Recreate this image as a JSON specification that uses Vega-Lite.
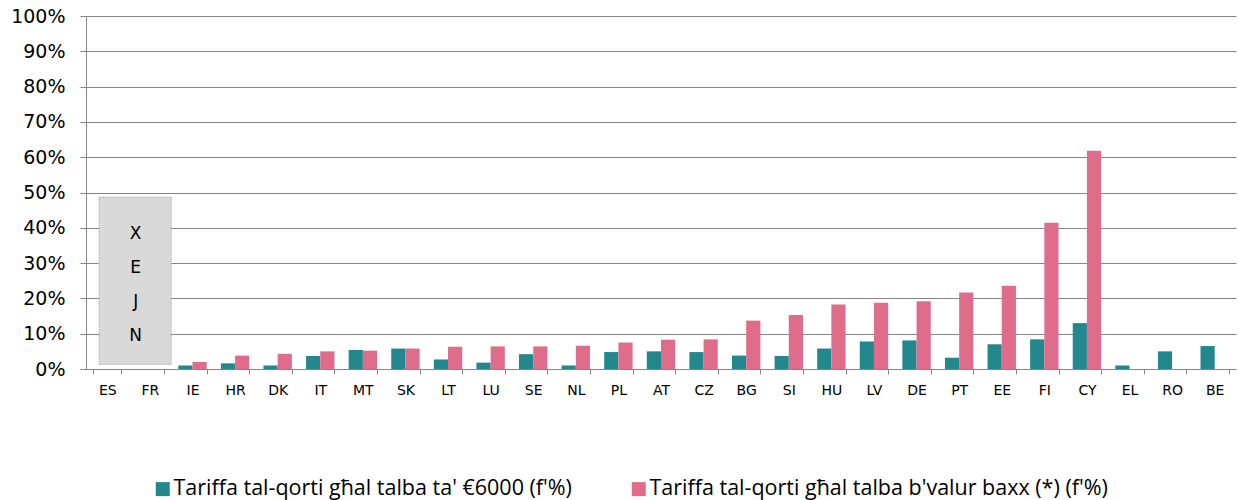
{
  "$schema": "https://vega.github.io/schema/vega-lite/v6.json",
  "autosize": {"type": "none"},
  "width": 1150,
  "height": 353,
  "padding": {"left": 86, "top": 16, "right": 3, "bottom": 131},
  "background": "white",
  "config": {
    "font": "Open Sans",
    "view": {"stroke": null}
  },
  "datasets": {
    "bars": [
      {"country": "IE", "series": "Tariffa tal-qorti għal talba ta' €6000 (f'%)", "value": 0.010},
      {"country": "IE", "series": "Tariffa tal-qorti għal talba b'valur baxx (*) (f'%)", "value": 0.020},
      {"country": "HR", "series": "Tariffa tal-qorti għal talba ta' €6000 (f'%)", "value": 0.016},
      {"country": "HR", "series": "Tariffa tal-qorti għal talba b'valur baxx (*) (f'%)", "value": 0.038},
      {"country": "DK", "series": "Tariffa tal-qorti għal talba ta' €6000 (f'%)", "value": 0.010},
      {"country": "DK", "series": "Tariffa tal-qorti għal talba b'valur baxx (*) (f'%)", "value": 0.043},
      {"country": "IT", "series": "Tariffa tal-qorti għal talba ta' €6000 (f'%)", "value": 0.037},
      {"country": "IT", "series": "Tariffa tal-qorti għal talba b'valur baxx (*) (f'%)", "value": 0.050},
      {"country": "MT", "series": "Tariffa tal-qorti għal talba ta' €6000 (f'%)", "value": 0.054},
      {"country": "MT", "series": "Tariffa tal-qorti għal talba b'valur baxx (*) (f'%)", "value": 0.052},
      {"country": "SK", "series": "Tariffa tal-qorti għal talba ta' €6000 (f'%)", "value": 0.058},
      {"country": "SK", "series": "Tariffa tal-qorti għal talba b'valur baxx (*) (f'%)", "value": 0.058},
      {"country": "LT", "series": "Tariffa tal-qorti għal talba ta' €6000 (f'%)", "value": 0.027},
      {"country": "LT", "series": "Tariffa tal-qorti għal talba b'valur baxx (*) (f'%)", "value": 0.063},
      {"country": "LU", "series": "Tariffa tal-qorti għal talba ta' €6000 (f'%)", "value": 0.018},
      {"country": "LU", "series": "Tariffa tal-qorti għal talba b'valur baxx (*) (f'%)", "value": 0.064},
      {"country": "SE", "series": "Tariffa tal-qorti għal talba ta' €6000 (f'%)", "value": 0.042},
      {"country": "SE", "series": "Tariffa tal-qorti għal talba b'valur baxx (*) (f'%)", "value": 0.064},
      {"country": "NL", "series": "Tariffa tal-qorti għal talba ta' €6000 (f'%)", "value": 0.010},
      {"country": "NL", "series": "Tariffa tal-qorti għal talba b'valur baxx (*) (f'%)", "value": 0.066},
      {"country": "PL", "series": "Tariffa tal-qorti għal talba ta' €6000 (f'%)", "value": 0.048},
      {"country": "PL", "series": "Tariffa tal-qorti għal talba b'valur baxx (*) (f'%)", "value": 0.075},
      {"country": "AT", "series": "Tariffa tal-qorti għal talba ta' €6000 (f'%)", "value": 0.050},
      {"country": "AT", "series": "Tariffa tal-qorti għal talba b'valur baxx (*) (f'%)", "value": 0.083},
      {"country": "CZ", "series": "Tariffa tal-qorti għal talba ta' €6000 (f'%)", "value": 0.048},
      {"country": "CZ", "series": "Tariffa tal-qorti għal talba b'valur baxx (*) (f'%)", "value": 0.084},
      {"country": "BG", "series": "Tariffa tal-qorti għal talba ta' €6000 (f'%)", "value": 0.038},
      {"country": "BG", "series": "Tariffa tal-qorti għal talba b'valur baxx (*) (f'%)", "value": 0.137},
      {"country": "SI", "series": "Tariffa tal-qorti għal talba ta' €6000 (f'%)", "value": 0.037},
      {"country": "SI", "series": "Tariffa tal-qorti għal talba b'valur baxx (*) (f'%)", "value": 0.153},
      {"country": "HU", "series": "Tariffa tal-qorti għal talba ta' €6000 (f'%)", "value": 0.058},
      {"country": "HU", "series": "Tariffa tal-qorti għal talba b'valur baxx (*) (f'%)", "value": 0.183},
      {"country": "LV", "series": "Tariffa tal-qorti għal talba ta' €6000 (f'%)", "value": 0.078},
      {"country": "LV", "series": "Tariffa tal-qorti għal talba b'valur baxx (*) (f'%)", "value": 0.188},
      {"country": "DE", "series": "Tariffa tal-qorti għal talba ta' €6000 (f'%)", "value": 0.081},
      {"country": "DE", "series": "Tariffa tal-qorti għal talba b'valur baxx (*) (f'%)", "value": 0.192},
      {"country": "PT", "series": "Tariffa tal-qorti għal talba ta' €6000 (f'%)", "value": 0.032},
      {"country": "PT", "series": "Tariffa tal-qorti għal talba b'valur baxx (*) (f'%)", "value": 0.217},
      {"country": "EE", "series": "Tariffa tal-qorti għal talba ta' €6000 (f'%)", "value": 0.070},
      {"country": "EE", "series": "Tariffa tal-qorti għal talba b'valur baxx (*) (f'%)", "value": 0.236},
      {"country": "FI", "series": "Tariffa tal-qorti għal talba ta' €6000 (f'%)", "value": 0.084},
      {"country": "FI", "series": "Tariffa tal-qorti għal talba b'valur baxx (*) (f'%)", "value": 0.414},
      {"country": "CY", "series": "Tariffa tal-qorti għal talba ta' €6000 (f'%)", "value": 0.130},
      {"country": "CY", "series": "Tariffa tal-qorti għal talba b'valur baxx (*) (f'%)", "value": 0.618},
      {"country": "EL", "series": "Tariffa tal-qorti għal talba ta' €6000 (f'%)", "value": 0.010},
      {"country": "RO", "series": "Tariffa tal-qorti għal talba ta' €6000 (f'%)", "value": 0.050},
      {"country": "BE", "series": "Tariffa tal-qorti għal talba ta' €6000 (f'%)", "value": 0.065}
    ],
    "box": [
      {"from": "ES", "to": "FR", "top": 0.487, "bottom": 0.013}
    ],
    "letters": [
      {"country": "FR", "letter": "X", "y": 0.382},
      {"country": "FR", "letter": "E", "y": 0.285},
      {"country": "FR", "letter": "J", "y": 0.190},
      {"country": "FR", "letter": "N", "y": 0.093}
    ]
  },
  "resolve": {"scale": {"x": "shared", "y": "shared"}},
  "layer": [
    {
      "data": {"name": "bars"},
      "mark": {"type": "bar"},
      "encoding": {
        "x": {
          "field": "country",
          "type": "nominal",
          "sort": ["ES","FR","IE","HR","DK","IT","MT","SK","LT","LU","SE","NL","PL","AT","CZ","BG","SI","HU","LV","DE","PT","EE","FI","CY","EL","RO","BE"],
          "scale": {
            "domain": ["ES","FR","IE","HR","DK","IT","MT","SK","LT","LU","SE","NL","PL","AT","CZ","BG","SI","HU","LV","DE","PT","EE","FI","CY","EL","RO","BE"],
            "paddingInner": 0.3333,
            "paddingOuter": 0.1667
          },
          "axis": {
            "title": null,
            "labelAngle": 0,
            "labelFont": "DejaVu Sans",
            "labelFontSize": 14,
            "labelColor": "#000000",
            "labelPadding": 9,
            "labelOverlap": false,
            "tickBand": "extent",
            "tickSize": 5,
            "tickColor": "#868686",
            "domainColor": "#868686",
            "grid": false
          }
        },
        "xOffset": {
          "field": "series",
          "type": "nominal",
          "sort": ["Tariffa tal-qorti għal talba ta' €6000 (f'%)", "Tariffa tal-qorti għal talba b'valur baxx (*) (f'%)"],
          "scale": {"paddingInner": 0, "paddingOuter": 0}
        },
        "y": {
          "field": "value",
          "type": "quantitative",
          "scale": {"domain": [0, 1], "nice": false},
          "axis": {
            "title": null,
            "format": ".0%",
            "values": [0, 0.1, 0.2, 0.3, 0.4, 0.5, 0.6, 0.7, 0.8, 0.9, 1],
            "labelOverlap": false,
            "labelFont": "DejaVu Sans",
            "labelFontSize": 19,
            "labelColor": "#000000",
            "labelPadding": 15,
            "tickSize": 6,
            "tickColor": "#868686",
            "domainColor": "#868686",
            "gridColor": "#868686",
            "gridWidth": 1
          }
        },
        "color": {
          "field": "series",
          "type": "nominal",
          "sort": ["Tariffa tal-qorti għal talba ta' €6000 (f'%)", "Tariffa tal-qorti għal talba b'valur baxx (*) (f'%)"],
          "scale": {
            "domain": ["Tariffa tal-qorti għal talba ta' €6000 (f'%)", "Tariffa tal-qorti għal talba b'valur baxx (*) (f'%)"],
            "range": ["#22888E", "#E06C8C"]
          },
          "legend": {
            "title": null,
            "orient": "none",
            "direction": "horizontal",
            "legendX": 66,
            "legendY": 462,
            "padding": 0,
            "symbolType": "square",
            "symbolSize": 196,
            "symbolStrokeWidth": 0,
            "symbolOpacity": 1,
            "labelFont": "Open Sans",
            "labelFontSize": 21.5,
            "labelColor": "#000000",
            "labelOffset": 0,
            "labelLimit": 0,
            "columnPadding": 56
          }
        }
      }
    },
    {
      "data": {"name": "box"},
      "mark": {"type": "rect", "fill": "#D9D9D9", "stroke": "#A6A6A6", "strokeWidth": 1, "strokeDash": [1, 1]},
      "encoding": {
        "x": {
          "field": "from", "type": "nominal", "bandPosition": 0.21,
          "axis": {
            "title": null,
            "labelAngle": 0,
            "labelFont": "DejaVu Sans",
            "labelFontSize": 14,
            "labelColor": "#000000",
            "labelPadding": 9,
            "labelOverlap": false,
            "tickBand": "extent",
            "tickSize": 5,
            "tickColor": "#868686",
            "domainColor": "#868686",
            "grid": false
          }
        },
        "x2": {"field": "to", "bandPosition": 1.25},
        "y": {
          "field": "top", "type": "quantitative",
          "axis": {
            "title": null,
            "format": ".0%",
            "values": [0, 0.1, 0.2, 0.3, 0.4, 0.5, 0.6, 0.7, 0.8, 0.9, 1],
            "labelOverlap": false,
            "labelFont": "DejaVu Sans",
            "labelFontSize": 19,
            "labelColor": "#000000",
            "labelPadding": 15,
            "tickSize": 6,
            "tickColor": "#868686",
            "domainColor": "#868686",
            "gridColor": "#868686",
            "gridWidth": 1
          }
        },
        "y2": {"field": "bottom"}
      }
    },
    {
      "data": {"name": "letters"},
      "mark": {"type": "text", "font": "DejaVu Sans", "fontSize": 17, "color": "#000000", "baseline": "middle", "align": "center"},
      "encoding": {
        "x": {
          "field": "country", "type": "nominal", "bandPosition": 0,
          "axis": {
            "title": null,
            "labelAngle": 0,
            "labelFont": "DejaVu Sans",
            "labelFontSize": 14,
            "labelColor": "#000000",
            "labelPadding": 9,
            "labelOverlap": false,
            "tickBand": "extent",
            "tickSize": 5,
            "tickColor": "#868686",
            "domainColor": "#868686",
            "grid": false
          }
        },
        "y": {
          "field": "y", "type": "quantitative",
          "axis": {
            "title": null,
            "format": ".0%",
            "values": [0, 0.1, 0.2, 0.3, 0.4, 0.5, 0.6, 0.7, 0.8, 0.9, 1],
            "labelOverlap": false,
            "labelFont": "DejaVu Sans",
            "labelFontSize": 19,
            "labelColor": "#000000",
            "labelPadding": 15,
            "tickSize": 6,
            "tickColor": "#868686",
            "domainColor": "#868686",
            "gridColor": "#868686",
            "gridWidth": 1
          }
        },
        "text": {"field": "letter"}
      }
    }
  ]
}
